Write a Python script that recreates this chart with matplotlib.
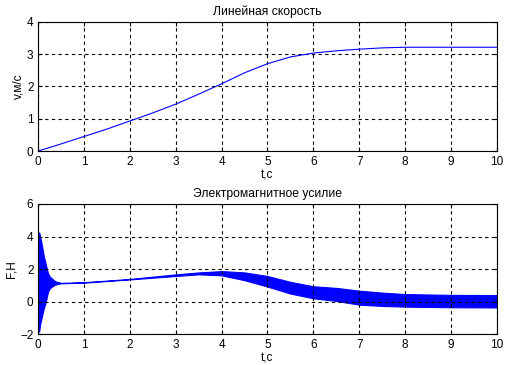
"""Linear velocity and electromagnetic force of the drive vs time."""
import matplotlib
matplotlib.use("Agg")
import matplotlib.pyplot as plt

plt.rcParams['font.family'] = ['Liberation Sans', 'DejaVu Sans']
plt.rcParams['font.size'] = 8.5

# Linear velocity v(t), m/s
t_v = [0, 0.5, 1, 1.5, 2, 2.5, 3, 3.5, 4, 4.5, 5, 5.5, 6, 6.5, 7, 7.5, 8, 9, 10]
v = [0, 0.22, 0.45, 0.68, 0.93, 1.18, 1.45, 1.76, 2.08, 2.42, 2.70, 2.91, 3.03, 3.10, 3.15, 3.19, 3.21, 3.21, 3.21]

# Electromagnetic force F(t), N: upper and lower envelope of the oscillating signal
t_f = [0, 0.02, 0.04, 0.08, 0.12, 0.15, 0.18, 0.21, 0.25, 0.3, 0.35, 0.4, 0.5,
       1, 2, 3, 3.5, 4, 4.5, 5, 5.5, 6, 6.5, 7, 7.5, 8, 9, 10]
f_upper = [4.2, 4.25, 4.0, 3.45, 2.8, 2.45, 2.1, 1.76, 1.55, 1.42, 1.3, 1.22, 1.16,
           1.20, 1.40, 1.68, 1.80, 1.88, 1.80, 1.58, 1.22, 0.95, 0.85, 0.68, 0.56, 0.47, 0.42, 0.41]
f_lower = [-1.85, -1.8, -1.4, -0.9, -0.4, -0.15, 0.2, 0.6, 0.82, 0.93, 1.02, 1.08, 1.13,
           1.17, 1.37, 1.58, 1.68, 1.62, 1.32, 0.93, 0.50, 0.21, 0.05, -0.18, -0.26, -0.30, -0.34, -0.35]

x_ticks = list(range(0, 11))
v_ticks = [0, 1, 2, 3, 4]
f_ticks = [-2, 0, 2, 4, 6]


def style_axes(ax):
    ax.grid(True, color='black', linestyle=(0, (3, 3)), linewidth=0.8)
    ax.tick_params(direction='in', length=3, top=True, right=True, width=0.8)
    for s in ax.spines.values():
        s.set_linewidth(0.8)
    ax.set_xlim(0, 10)
    ax.set_xticks(x_ticks)


fig = plt.figure(figsize=(5.1, 3.65), dpi=100)

ax1 = fig.add_axes([0.0751, 0.5863, 0.8988, 0.3542])
ax1.plot(t_v, v, color='blue', linewidth=0.8)
style_axes(ax1)
ax1.set_ylim(0, 4)
ax1.set_yticks(v_ticks)
ax1.set_title("Линейная скорость", fontsize=8.7, pad=5)
ax1.set_xlabel("t,c", labelpad=1)
ax1.set_ylabel("v,м/c", labelpad=2)

ax2 = fig.add_axes([0.0751, 0.0841, 0.8988, 0.357])
ax2.fill_between(t_f, f_lower, f_upper, color='blue', linewidth=0.8, edgecolor='blue')
style_axes(ax2)
ax2.set_ylim(-2, 6)
ax2.set_yticks(f_ticks)
ax2.set_title("Электромагнитное усилие", fontsize=8.7, pad=5)
ax2.set_xlabel("t,c", labelpad=1)
ax2.set_ylabel("F,H", labelpad=2)

fig.savefig("out.png", dpi=100)
